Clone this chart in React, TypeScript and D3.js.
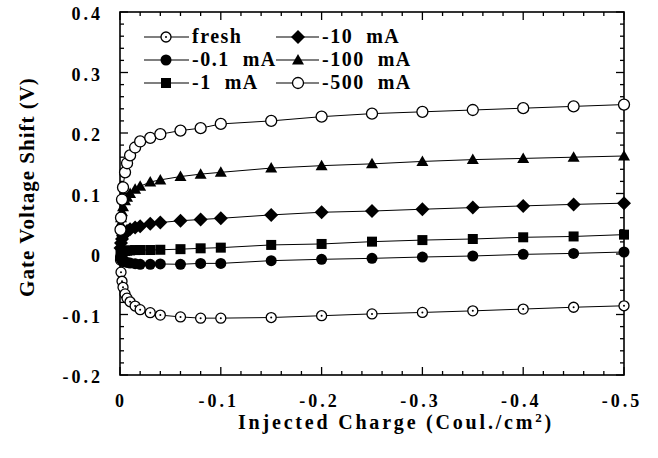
import React from "react";
import * as d3 from "d3";

// Injected charge (Coul./cm^2), negative direction
const charge = [-0.0005, -0.001, -0.002, -0.003, -0.005, -0.007, -0.01, -0.015, -0.02, -0.03, -0.04, -0.06, -0.08, -0.1, -0.15, -0.2, -0.25, -0.3, -0.35, -0.4, -0.45, -0.5];

const fresh = [-0.01, -0.03, -0.045, -0.055, -0.066, -0.073, -0.079, -0.086, -0.092, -0.097, -0.101, -0.104, -0.106, -0.106, -0.105, -0.102, -0.099, -0.0966, -0.094, -0.091, -0.088, -0.0856];
const ma01 = [-0.005, -0.008, -0.01, -0.012, -0.013, -0.014, -0.015, -0.016, -0.017, -0.017, -0.0165, -0.017, -0.0155, -0.0155, -0.011, -0.0088, -0.0072, -0.005, -0.0033, -0.0006, 0.001, 0.0033];
const ma1 = [0.0, 0.002, 0.003, 0.004, 0.005, 0.0055, 0.006, 0.0065, 0.0066, 0.0066, 0.007, 0.008, 0.0094, 0.0105, 0.015, 0.0166, 0.0204, 0.023, 0.0248, 0.0276, 0.029, 0.032];
const ma10 = [0.01, 0.018, 0.025, 0.03, 0.035, 0.038, 0.041, 0.044, 0.046, 0.05, 0.052, 0.055, 0.057, 0.059, 0.0646, 0.069, 0.071, 0.074, 0.0767, 0.0795, 0.082, 0.084];
const ma100 = [0.05, 0.06, 0.07, 0.078, 0.088, 0.094, 0.1, 0.107, 0.112, 0.119, 0.1225, 0.128, 0.132, 0.135, 0.142, 0.146, 0.149, 0.153, 0.156, 0.158, 0.16, 0.162];
const ma500 = [0.04, 0.06, 0.09, 0.11, 0.135, 0.15, 0.163, 0.176, 0.186, 0.192, 0.198, 0.204, 0.208, 0.215, 0.22, 0.227, 0.232, 0.235, 0.238, 0.241, 0.244, 0.247];

const seriesNames = ["fresh", "-0.1  mA", "-1  mA", "-10  mA", "-100  mA", "-500  mA"];
const seriesValues = [fresh, ma01, ma1, ma10, ma100, ma500];
const seriesMarkers = ["dotcircle", "circle", "square", "diamond", "triangle", "opencircle"];

const xTickValues = [0, -0.1, -0.2, -0.3, -0.4, -0.5];
const xTickLabels = ["0", "-0.1", "-0.2", "-0.3", "-0.4", "-0.5"];
const yTickValues = [-0.2, -0.1, 0, 0.1, 0.2, 0.3, 0.4];
const yTickLabels = ["-0.2", "-0.1", "0", "0.1", "0.2", "0.3", "0.4"];

const FONT = "Liberation Serif, Times New Roman, DejaVu Serif, serif";
const tStyle = { fontFamily: FONT, fontWeight: 700 as const, whiteSpace: "pre" as const };

function Marker({ type, cx, cy }: { type: string; cx: number; cy: number }) {
  switch (type) {
    case "dotcircle":
      return (
        <g>
          <circle cx={cx} cy={cy} r={5} fill="white" stroke="black" strokeWidth={1.3} />
          <circle cx={cx} cy={cy} r={1} fill="black" />
        </g>
      );
    case "circle":
      return <circle cx={cx} cy={cy} r={5.5} fill="black" />;
    case "square":
      return <rect x={cx - 5} y={cy - 5} width={10} height={10} fill="black" />;
    case "diamond":
      return <path d={`M${cx},${cy - 7}L${cx + 7},${cy}L${cx},${cy + 7}L${cx - 7},${cy}Z`} fill="black" />;
    case "triangle":
      return <path d={`M${cx},${cy - 6}L${cx + 6},${cy + 4.5}L${cx - 6},${cy + 4.5}Z`} fill="black" />;
    case "opencircle":
      return <circle cx={cx} cy={cy} r={5.5} fill="white" stroke="black" strokeWidth={1.3} />;
  }
  return null;
}

export default function App() {
  const W = 658, H = 458;
  const left = 120, right = 624, top = 12, bottom = 375;
  const x = d3.scaleLinear().domain([0, -0.5]).range([left, right]);
  const y = d3.scaleLinear().domain([-0.2, 0.4]).range([bottom, top]);

  const xMinor = d3.range(0, 26).map((i) => -i * 0.02);
  const yMinor = d3.range(0, 31).map((i) => -0.2 + i * 0.02);
  const isMajor = (v: number) => Math.abs(Math.round(v * 10) - v * 10) < 1e-6;

  const line = d3
    .line<[number, number]>()
    .x((d) => x(d[0]))
    .y((d) => y(d[1]));

  const legendItems = seriesNames.map((name, i) => {
    const col = i < 3 ? 0 : 1;
    const row = i % 3;
    return { name, marker: seriesMarkers[i], col, row };
  });
  const legendCols = [
    { x1: 144, x2: 189, mx: 166, tx: 192 },
    { x1: 276, x2: 319, mx: 298, tx: 322 },
  ];
  const legendRows = [37, 60, 83];

  return (
    <svg width={W} height={H} style={{ position: "absolute", left: 0, top: 0, background: "white" }}>
      <rect x={0} y={0} width={W} height={H} fill="white" />
      {/* ticks */}
      {xMinor.map((v, i) => {
        const len = isMajor(v) ? 8 : 4;
        return (
          <g key={"xt" + i}>
            <line x1={x(v)} x2={x(v)} y1={bottom} y2={bottom - len} stroke="black" strokeWidth={1.3} />
            <line x1={x(v)} x2={x(v)} y1={top} y2={top + len} stroke="black" strokeWidth={1.3} />
          </g>
        );
      })}
      {yMinor.map((v, i) => {
        const len = isMajor(v) ? 8 : 4;
        return (
          <g key={"yt" + i}>
            <line x1={left} x2={left + len} y1={y(v)} y2={y(v)} stroke="black" strokeWidth={1.3} />
            <line x1={right} x2={right - len} y1={y(v)} y2={y(v)} stroke="black" strokeWidth={1.3} />
          </g>
        );
      })}
      <rect x={left} y={top} width={right - left} height={bottom - top} fill="none" stroke="black" strokeWidth={1.6} />
      {/* tick labels */}
      {xTickValues.map((v, i) => (
        <text key={"xl" + i} x={x(v) - (i === 0 ? -1 : 2)} y={407} textAnchor="middle" fontSize={18} letterSpacing={3} style={tStyle}>
          {xTickLabels[i]}
        </text>
      ))}
      {yTickValues.map((v, i) => (
        <text key={"yl" + i} x={103} y={y(v) + 8} textAnchor="end" fontSize={18} letterSpacing={3} style={tStyle}>
          {yTickLabels[i]}
        </text>
      ))}
      {/* axis titles */}
      <text x={396} y={429} textAnchor="middle" fontSize={20} letterSpacing={2.8} style={tStyle}>
        Injected Charge (Coul./cm<tspan dy={-7} fontSize={13}>2</tspan><tspan dy={7}>)</tspan>
      </text>
      <text transform={`translate(34,187) rotate(-90)`} textAnchor="middle" fontSize={21} letterSpacing={1} style={tStyle}>
        Gate Voltage Shift (V)
      </text>
      {/* series */}
      {seriesValues.map((vals, si) => {
        const pts: [number, number][] = charge.map((c, j) => [c, vals[j]]);
        return (
          <g key={"s" + si}>
            <path d={line(pts) || ""} fill="none" stroke="black" strokeWidth={1} />
            {pts.map((p, j) => (
              <Marker key={j} type={seriesMarkers[si]} cx={x(p[0])} cy={y(p[1])} />
            ))}
          </g>
        );
      })}
      {/* legend */}
      {legendItems.map((it, i) => {
        const c = legendCols[it.col];
        const ry = legendRows[it.row];
        return (
          <g key={"lg" + i}>
            <line x1={c.x1} x2={c.x2} y1={ry} y2={ry} stroke="black" strokeWidth={1.2} />
            <Marker type={it.marker} cx={c.mx} cy={ry} />
            <text x={c.tx} y={ry + 6} fontSize={20} letterSpacing={1.5} style={tStyle}>
              {it.name}
            </text>
          </g>
        );
      })}
    </svg>
  );
}
